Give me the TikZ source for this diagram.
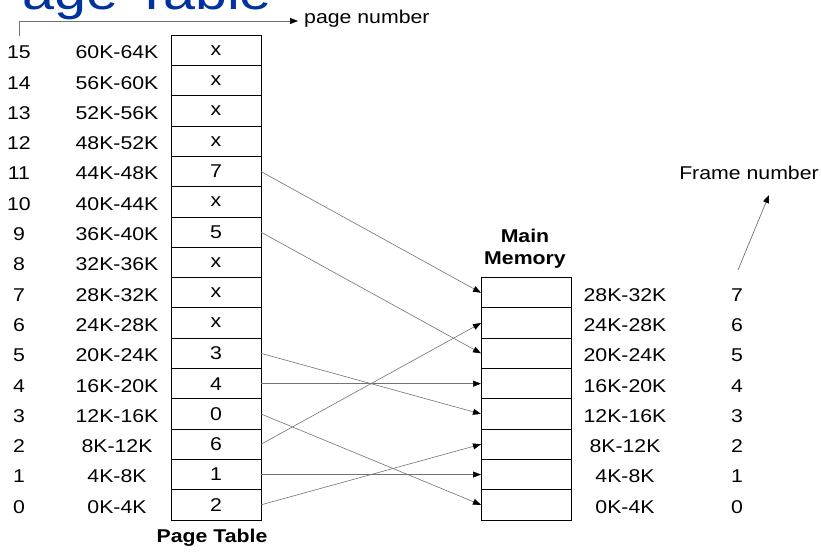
\documentclass[tikz,border=0pt]{standalone}
\usepackage{fontspec}
\setmainfont[FakeStretch=1.15]{Liberation Sans}
\usetikzlibrary{arrows.meta}
\definecolor{titleblue}{RGB}{0,51,160}
\begin{document}
\begin{tikzpicture}[x=1pt,y=-1pt,
  cell/.style={draw=black,line width=0.8pt,minimum width=90pt,minimum height=30.3pt,inner sep=0pt,outer sep=0pt,font=\fontsize{18.5}{20}\selectfont},
  lbl/.style={inner sep=0pt,font=\fontsize{18.5}{20}\selectfont},
  blbl/.style={inner sep=0pt,font=\fontsize{18.5}{22}\selectfont\bfseries,align=center},
  conn/.style={draw=black!55,line width=0.6pt,-{Triangle[length=8pt,width=6pt,color=black]}},
  plainarr/.style={draw=black!55,line width=0.7pt,-{Triangle[length=8pt,width=6pt,color=black]}}]
\useasboundingbox (0,0) rectangle (822,553);
\fill[white] (0,0) rectangle (822,553);
% title (cut off at the top and left, as in the reference)
\node[anchor=base west,inner sep=0pt,text=titleblue,font=\fontsize{50}{52}\selectfont] (title) at (-16,10) {Page Table};
% page table
\foreach \i/\v/\r in {15/x/60K-64K,14/x/56K-60K,13/x/52K-56K,12/x/48K-52K,11/7/44K-48K,10/x/40K-44K,9/5/36K-40K,8/x/32K-36K,7/x/28K-32K,6/x/24K-28K,5/3/20K-24K,4/4/16K-20K,3/0/12K-16K,2/6/8K-12K,1/1/4K-8K,0/2/0K-4K}{
  \node[cell] (p\i) at (216,{520-(\i+0.5)*30.3}) {\v};
  \node[lbl] (pn\i) at (19,{522-(\i+0.5)*30.3}) {\i};
  \node[lbl] (pr\i) at (117,{522-(\i+0.5)*30.3}) {\r};
}
\node[blbl] (ptl) at (212,538) {Page Table};
% main memory
\foreach \i/\r in {7/28K-32K,6/24K-28K,5/20K-24K,4/16K-20K,3/12K-16K,2/8K-12K,1/4K-8K,0/0K-4K}{
  \node[cell] (m\i) at (526,{520-(\i+0.5)*30.3}) {};
  \node[lbl] (mr\i) at (625,{522-(\i+0.5)*30.3}) {\r};
  \node[lbl] (mf\i) at (737,{522-(\i+0.5)*30.3}) {\i};
}
\node[blbl] (mml) at (525,249) {Main\\Memory};
% mappings
\draw[conn] (p11.east) -- (m7.west);
\draw[conn] (p9.east) -- (m5.west);
\draw[conn] (p5.east) -- (m3.west);
\draw[conn] (p4.east) -- (m4.west);
\draw[conn] (p3.east) -- (m0.west);
\draw[conn] (p2.east) -- (m6.west);
\draw[conn] (p1.east) -- (m1.west);
\draw[conn] (p0.east) -- (m2.west);
% page number arrow
\coordinate (pna) at (19.5,36);
\coordinate (pnt) at (298,21);
\draw[plainarr] (pna) |- (pnt);
\node[lbl,anchor=base west] (pnl) at (304,24) {page number};
% frame number arrow
\coordinate (fna) at (738,270);
\coordinate (fnt) at (769,195);
\draw[plainarr] (fna) -- (fnt);
\node[lbl] (fnl) at (749,173) {Frame number};
\end{tikzpicture}
\end{document}
